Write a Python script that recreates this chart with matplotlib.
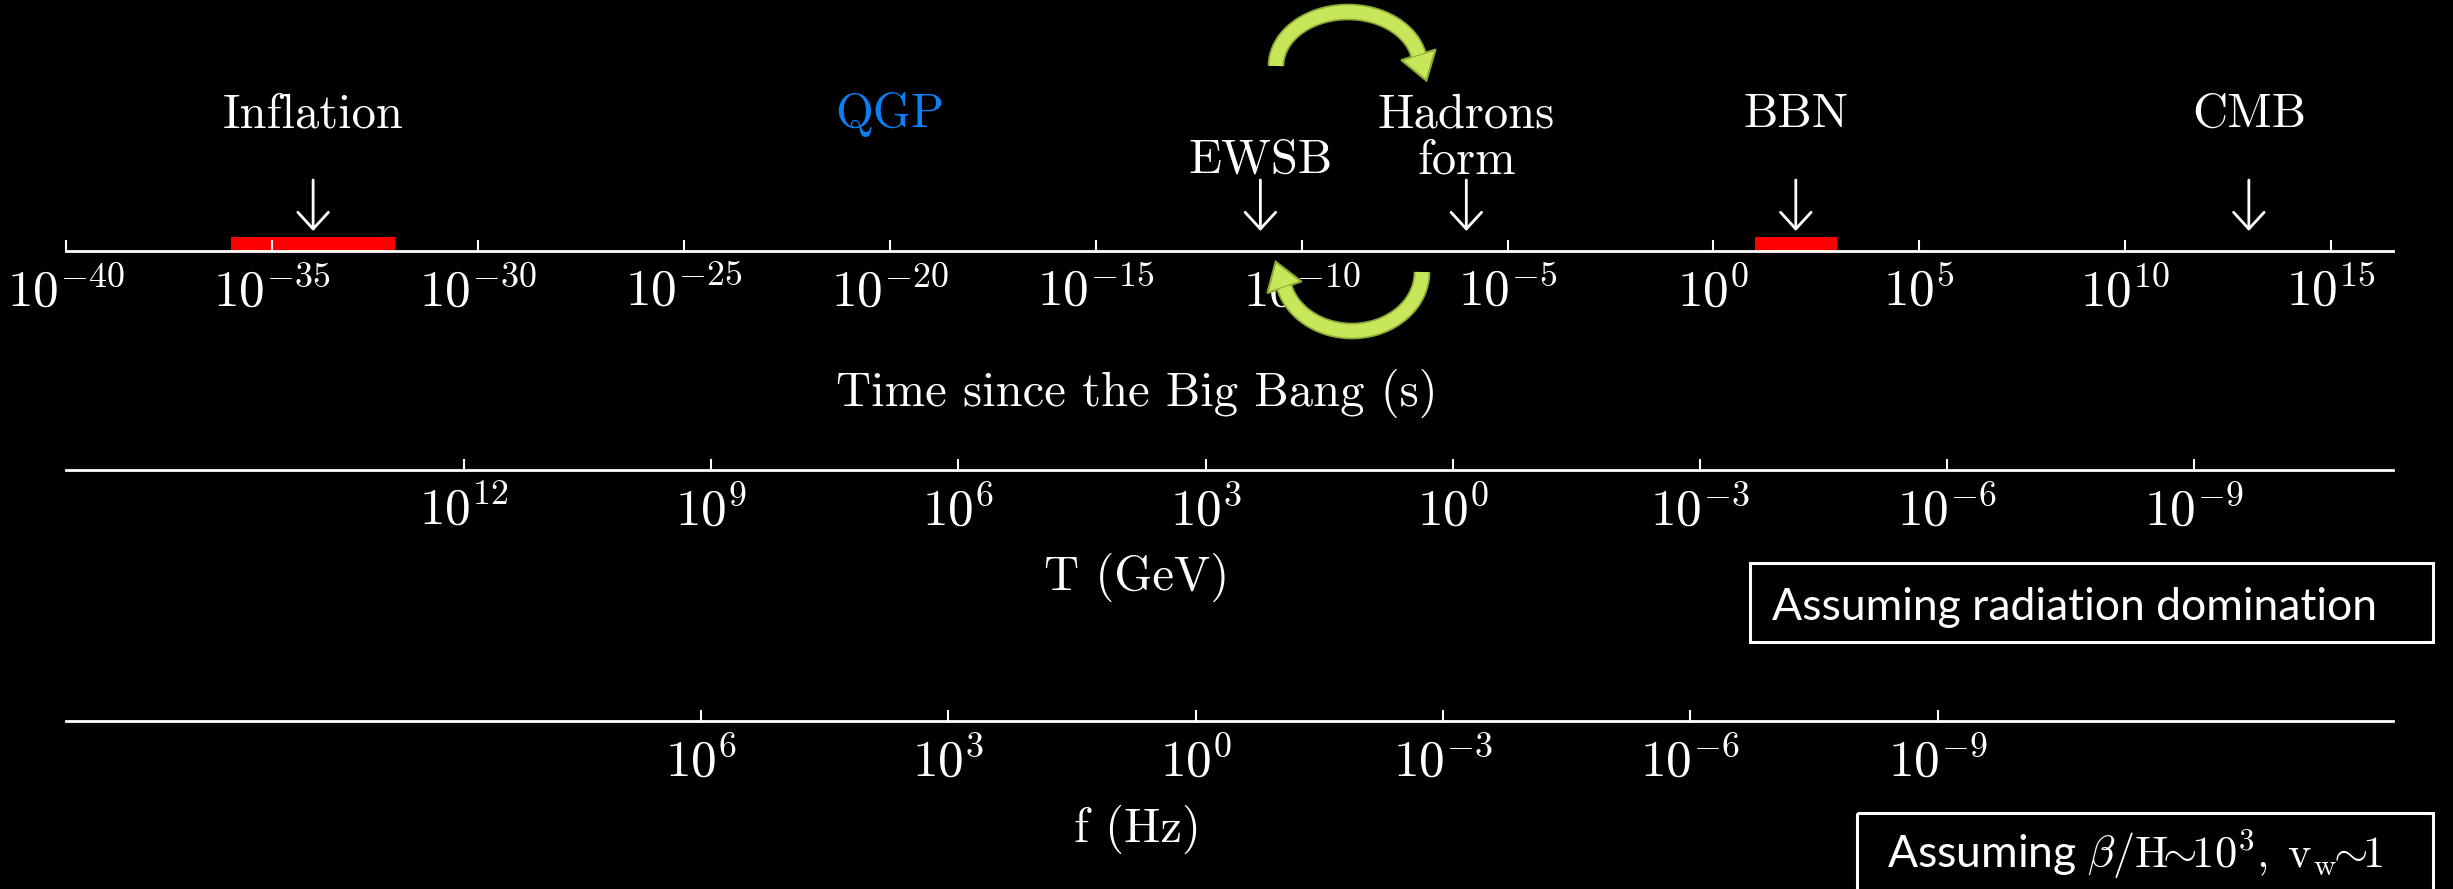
import numpy as np
import matplotlib
matplotlib.use('Agg')
import matplotlib.pyplot as plt
import matplotlib.patheffects as pe
from matplotlib.ticker import FixedLocator, FuncFormatter, NullLocator
from matplotlib.patches import Rectangle, Polygon

plt.rcParams['font.family'] = 'cmr10'
plt.rcParams['mathtext.fontset'] = 'cm'
plt.rcParams['axes.formatter.use_mathtext'] = True

# ---- data ----
# time since the Big Bang (s)
time_lim = (1e-40, 10**16.5)
time_ticks = [10.0**k for k in range(-40, 16, 5)]
event_names = ['Inflation', 'EWSB', 'Hadrons\nform', 'BBN', 'CMB']
event_times = [1e-34, 1e-11, 1e-6, 1e2, 1e13]
event_rows = ['top', 'low', 'top', 'top', 'top']
qgp_time = 1e-20
band_start = [1e-36, 1e1]   # inflation, BBN
band_end = [1e-32, 1e3]

# temperature (GeV)
temp_lim = (10**16.83, 10**-11.41)
temp_ticks = [1e12, 1e9, 1e6, 1e3, 1e0, 1e-3, 1e-6, 1e-9]

# GW frequency today (Hz)
freq_lim = (10**13.70, 10**-14.52)
freq_ticks = [1e6, 1e3, 1e0, 1e-3, 1e-6, 1e-9]

# ---- layout (pixels) ----
W, H = 2453, 889
X0, X1 = 66, 2393
TOP_Y = 251
ROW_Y = {'top': 127, 'low': 173}
GREEN = '#c8e65a'
GREEN_EDGE = '#8aab36'


def timeline(fig, y_spine, h_pix, lim, ticks):
    ax = fig.add_axes([X0 / W, 1 - y_spine / H, (X1 - X0) / W, h_pix / H])
    ax.set_facecolor('none')
    ax.set_xscale('log')
    ax.set_xlim(*lim)
    ax.set_ylim(0, 1)
    for s in ['top', 'left', 'right']:
        ax.spines[s].set_visible(False)
    ax.spines['bottom'].set_color('white')
    ax.spines['bottom'].set_linewidth(2)
    ax.xaxis.set_major_locator(FixedLocator(ticks))
    ax.xaxis.set_minor_locator(NullLocator())
    ax.xaxis.set_major_formatter(
        FuncFormatter(lambda v, p: r'$10^{%d}$' % round(np.log10(v))))
    ax.tick_params(axis='x', direction='in', length=8, width=1.5,
                   colors='white', labelsize=37, pad=11)
    ax.set_yticks([])
    return ax


fig = plt.figure(figsize=(W / 100, H / 100), dpi=100, facecolor='black')

# time axis
ax_t = timeline(fig, TOP_Y, TOP_Y, time_lim, time_ticks)
for s, e in zip(band_start, band_end):
    ax_t.fill_between([s, e], 0, 14 / TOP_Y, color='red', lw=0)


def yfrac(y_pix):
    return (TOP_Y - y_pix) / TOP_Y


for name, t, row in zip(event_names, event_times, event_rows):
    lines = name.split('\n')
    if len(lines) == 2:
        ax_t.text(t, yfrac(ROW_Y['top']), lines[0], ha='center', va='baseline',
                  color='white', fontsize=35)
        ax_t.text(t, yfrac(ROW_Y['low']), lines[1], ha='center', va='baseline',
                  color='white', fontsize=35)
    else:
        ax_t.text(t, yfrac(ROW_Y[row]), name, ha='center', va='baseline',
                  color='white', fontsize=35)
    ax_t.annotate('', xy=(t, yfrac(231)), xytext=(t, yfrac(180)),
                  arrowprops=dict(arrowstyle='->,head_length=0.6,head_width=0.55',
                                  color='white', lw=2, shrinkA=0, shrinkB=0,
                                  mutation_scale=20))
ax_t.text(qgp_time, yfrac(ROW_Y['top']), 'QGP', ha='center', va='baseline',
          color='#0a80f5', fontsize=35)

# temperature and frequency axes
timeline(fig, 470, 4, temp_lim, temp_ticks)
timeline(fig, 721, 4, freq_lim, freq_ticks)

# overlay in pixel coordinates for labels, boxes and green arrows
ax_o = fig.add_axes([0, 0, 1, 1])
ax_o.set_xlim(0, W)
ax_o.set_ylim(H, 0)
ax_o.axis('off')

ax_o.text(1137, 406, 'Time since the Big Bang (s)', ha='center', va='baseline',
          color='white', fontsize=35)
ax_o.text(1137, 590, 'T (GeV)', ha='center', va='baseline',
          color='white', fontsize=35)
ax_o.text(1137, 842, 'f (Hz)', ha='center', va='baseline',
          color='white', fontsize=35)

ax_o.add_patch(Rectangle((1750, 563), 683, 79, fc='none', ec='white', lw=2.2))
ax_o.text(2074, 620, 'Assuming radiation domination', ha='center',
          va='baseline', color='white', fontsize=32, family='Lato')
ax_o.add_patch(Rectangle((1857, 813), 576, 110, fc='none', ec='white', lw=2.2))
ax_o.text(2135, 868,
          r'Assuming $\beta/\mathrm{H}\!\!\sim\!\!10^3,\;\mathrm{v}_\mathrm{w}\!\!\sim\!\!1$',
          ha='center', va='baseline', color='white', fontsize=32, family='Lato')


def curved_arrow(cx, cy, a, b, th0, th1, sign, head_len=27, head_w=36):
    th = np.radians(np.linspace(th0, th1, 80))
    x = cx + a * np.cos(th)
    y = cy + sign * b * np.sin(th)
    ax_o.plot(x, y, color=GREEN, lw=9.5, solid_capstyle='butt',
              path_effects=[pe.Stroke(linewidth=12, foreground=GREEN_EDGE),
                            pe.Normal()])
    d = np.array([x[-1] - x[-2], y[-1] - y[-2]])
    u = d / np.hypot(*d)
    n = np.array([-u[1], u[0]])
    end = np.array([x[-1], y[-1]])
    head = [end + n * head_w / 2, end + u * head_len, end - n * head_w / 2]
    ax_o.add_patch(Polygon(head, closed=True, fc=GREEN, ec=GREEN_EDGE, lw=1.5))


curved_arrow(1348, 66, 72, 54, 180, 12, -1)
curved_arrow(1352, 272, 70, 59, 0, 165, 1)

fig.savefig('out.png', dpi=100, facecolor='black')
